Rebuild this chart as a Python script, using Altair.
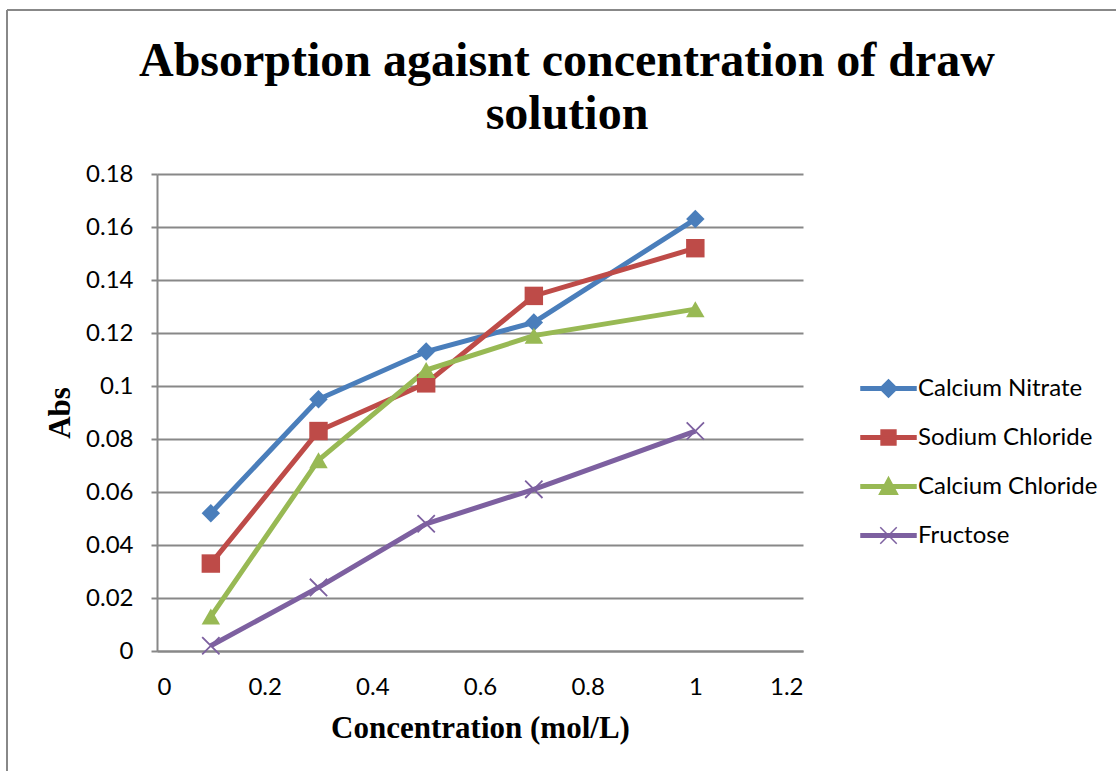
import altair as alt
import pandas as pd

concentration = [0.1, 0.3, 0.5, 0.7, 1.0]
series_names = ["Calcium Nitrate", "Sodium Chloride", "Calcium Chloride", "Fructose"]
calcium_nitrate = [0.052, 0.095, 0.113, 0.124, 0.163]
sodium_chloride = [0.033, 0.083, 0.101, 0.134, 0.152]
calcium_chloride = [0.013, 0.072, 0.106, 0.119, 0.129]
fructose = [0.002, 0.024, 0.048, 0.061, 0.083]
y_ticks = [0, 0.02, 0.04, 0.06, 0.08, 0.1, 0.12, 0.14, 0.16, 0.18]
x_ticks = [0, 0.2, 0.4, 0.6, 0.8, 1.0, 1.2]
colors = ["#4a7ebb", "#be4b48", "#98b954", "#7d60a0"]

rows = []
for name, vals in zip(series_names, [calcium_nitrate, sodium_chloride, calcium_chloride, fructose]):
    for c, v in zip(concentration, vals):
        rows.append({"conc": c, "abs": v, "series": name})
df = pd.DataFrame(rows)

X_PATH = "M-1,-1L1,1M-1,1L1,-1"
marker_shapes = ["diamond", "square", "triangle-up", X_PATH]
bar = "M-1,-0.06H1V0.06H-1Z"
legend_shapes = [
    bar + "M0,-0.32L0.32,0L0,0.32L-0.32,0Z",
    bar + "M-0.27,-0.27H0.27V0.27H-0.27Z",
    bar + "M0,-0.33L0.33,0.28H-0.33Z",
    bar + "M-0.3,-0.3L0.3,0.3M-0.3,0.3L0.3,-0.3",
]

xenc = alt.X("conc:Q", scale=alt.Scale(domain=[0, 1.2], nice=False),
             axis=alt.Axis(values=x_ticks, format="~g", title="Concentration (mol/L)",
                           grid=False, ticks=False, labelPadding=24, titlePadding=14))
yenc = alt.Y("abs:Q", scale=alt.Scale(domain=[0, 0.18], nice=False),
             axis=alt.Axis(values=y_ticks, format="~g", title="Abs", grid=True,
                           ticks=True, tickSize=6, labelPadding=18, titlePadding=9))
color = alt.Color("series:N", scale=alt.Scale(domain=series_names, range=colors), legend=None)
shape = alt.Shape("series:N", scale=alt.Scale(domain=series_names, range=marker_shapes), legend=None)

base = alt.Chart(df)
lines = base.mark_line(strokeWidth=5).encode(x=xenc, y=yenc, color=color, detail="series:N")
filled_pts = base.transform_filter("datum.series != 'Fructose'").mark_point(
    filled=True, size=340, opacity=1).encode(x=xenc, y=yenc, color=color, shape=shape)
x_pts = base.transform_filter("datum.series == 'Fructose'").mark_point(
    filled=False, size=300, strokeWidth=1.8, opacity=1).encode(x=xenc, y=yenc, color=color, shape=shape)

legend_layer = base.transform_filter("false").mark_point(opacity=1).encode(
    x=xenc, y=yenc,
    fill=alt.Fill("series:N", scale=alt.Scale(domain=series_names, range=colors),
                  legend=alt.Legend(title=None)),
    stroke=alt.Stroke("series:N", scale=alt.Scale(domain=series_names, range=colors),
                      legend=alt.Legend(title=None)),
    shape=alt.Shape("series:N", scale=alt.Scale(domain=series_names, range=legend_shapes),
                    legend=alt.Legend(title=None)),
)

frame = alt.Chart(pd.DataFrame({"a": [0]})).mark_rule(color="#888888", strokeWidth=2).encode(
    x=alt.value(-150), x2=alt.value(1000), y=alt.value(-164))
frame_left = alt.Chart(pd.DataFrame({"a": [0]})).mark_rule(color="#888888", strokeWidth=2).encode(
    x=alt.value(-150), y=alt.value(-164), y2=alt.value(700))

chart = alt.layer(frame, frame_left, lines, filled_pts, x_pts, legend_layer).resolve_scale(
    shape="independent", fill="independent", stroke="independent"
).resolve_legend(shape="independent", fill="independent", stroke="independent").properties(
    width=646, height=477,
    title=alt.TitleParams(
        text=["Absorption agaisnt concentration of draw", "solution"],
        font="Liberation Serif", fontSize=48, fontWeight="bold", color="black",
        lineHeight=53, anchor="middle", dx=87, dy=156, offset=26),
    autosize=alt.AutoSizeParams(type="none"),
    padding={"left": 157, "top": 174, "right": 313, "bottom": 120},
).configure_view(stroke=None).configure_axis(
    labelFont="Lato", labelFontSize=24, labelColor="black",
    titleFont="Liberation Serif", titleFontSize=31, titleFontWeight="bold", titleColor="black",
    domainColor="#888888", domainWidth=2, gridColor="#888888", gridWidth=2,
    tickColor="#888888", tickWidth=2,
).configure_legend(
    orient="none", legendX=703, legendY=186, labelFont="Lato", labelFontSize=24,
    labelColor="black", symbolSize=3025, symbolStrokeWidth=1.5, labelOffset=1,
    rowPadding=8, symbolType="circle", labelLimit=300,
)

chart.save("out.html", embed_options={"renderer": "svg", "actions": False})
